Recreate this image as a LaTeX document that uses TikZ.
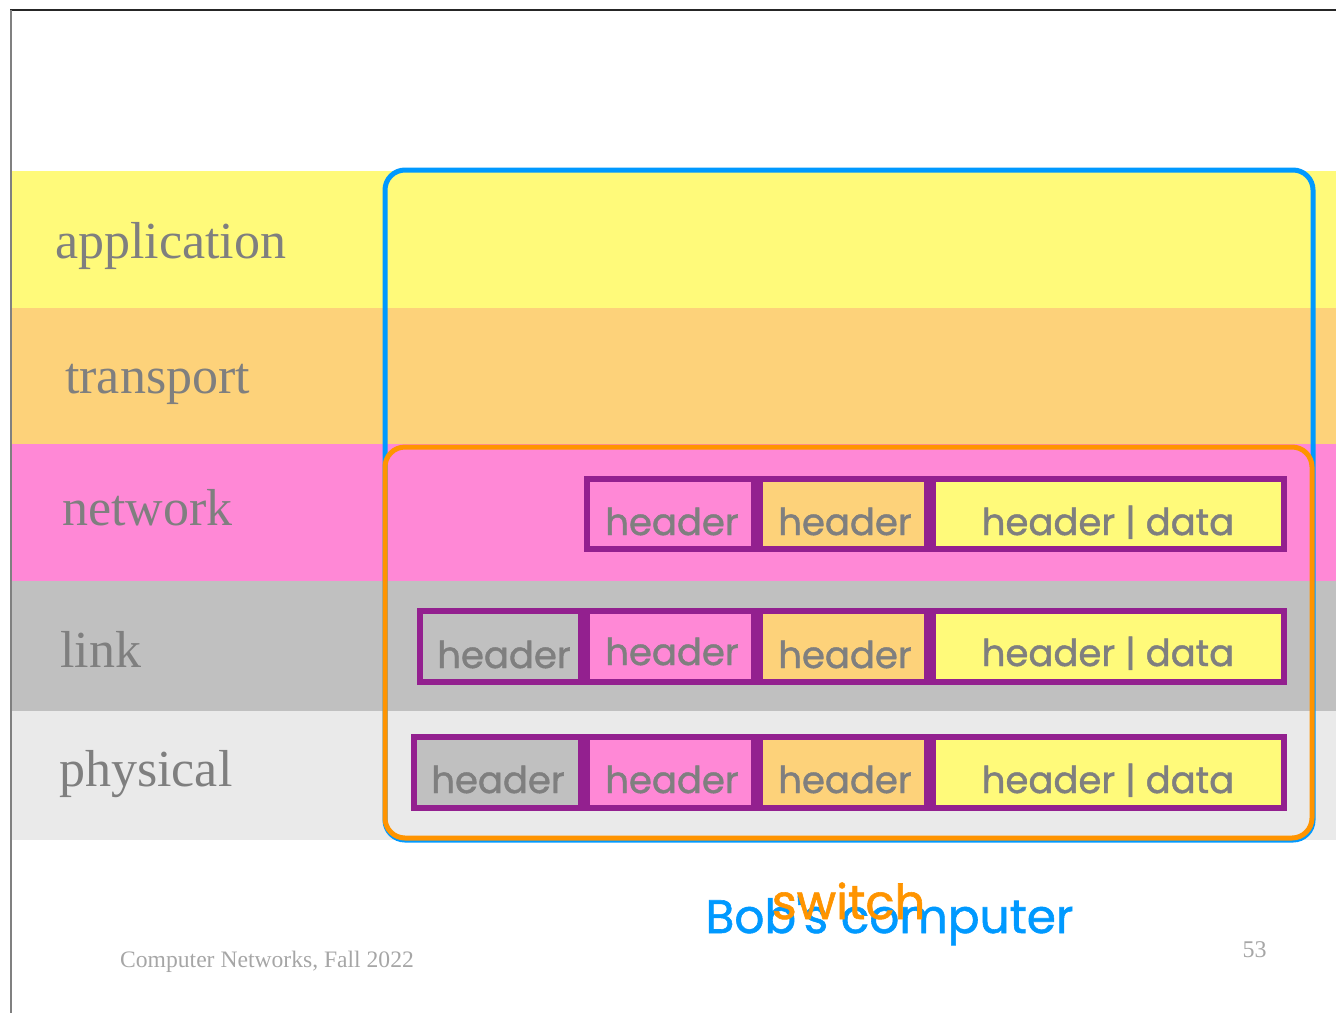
\documentclass[tikz,border=0pt]{standalone}
\usepackage{fontspec}
\setmainfont{Liberation Serif}
\newfontfamily\comic[FakeBold=1.2]{Poppins}
\definecolor{appY}{HTML}{FFFA7A}
\definecolor{trO}{HTML}{FDD27A}
\definecolor{netP}{HTML}{FF88D6}
\definecolor{linkG}{HTML}{C0C0C0}
\definecolor{phyG}{HTML}{EAEAEA}
\definecolor{hdrY}{HTML}{FFFA7A}
\definecolor{blueB}{HTML}{0099FF}
\definecolor{orangeB}{HTML}{FF9400}
\definecolor{purp}{HTML}{93208F}
\definecolor{txtG}{HTML}{7F7F7F}
\definecolor{footG}{HTML}{A6A6A6}
\tikzset{
  band/.style={draw=none},
  lab/.style={anchor=base west, inner sep=0, text=txtG, font=\fontsize{52}{56}\selectfont},
  pbox/.style={draw=purp, line width=6pt, inner sep=0, outer sep=0},
  htxt/.style={anchor=base, inner sep=0, text=txtG, font=\comic\fontsize{37}{40}\selectfont},
  frameline/.style={line width=1.5pt},
}
\begin{document}
\begin{tikzpicture}[x=1pt,y=-1pt]
\useasboundingbox (0,0) rectangle (1336,1013);
% bands
\fill[appY] (12,171) rectangle (1336,308);
\fill[trO] (12,308) rectangle (1336,444);
\fill[netP] (12,444) rectangle (1336,581);
\fill[linkG] (12,581) rectangle (1336,711);
\fill[phyG] (12,711) rectangle (1336,840);
% frame
\draw[frameline, black!85] (10,10) -- (1336,10);
\draw[frameline, gray] (11,10) -- (11,1013);
% layer labels
\node[lab] (lapp) at (55,258) {application};
\node[lab] (ltr) at (65,393) {transport};
\node[lab] (lnet) at (62,525) {network};
\node[lab] (llink) at (60,667) {link};
\node[lab] (lphy) at (59,786) {physical};
% blue and orange frames
\draw[blueB, line width=5pt, rounded corners=20pt] (385,170) rectangle (1313,840);
\draw[orangeB, line width=5pt, rounded corners=20pt] (385,447) rectangle (1312,838);
% network row
\node[pbox, fill=netP, minimum width=167pt, minimum height=70pt] (n1) at (670.5,514) {};
\node[pbox, fill=trO, minimum width=167pt, minimum height=70pt] (n2) at (843.5,514) {};
\node[pbox, fill=hdrY, minimum width=351pt, minimum height=70pt] (n3) at (1108.5,514) {};
\node[htxt] (tn1) at (672,535) {header};
\node[htxt] (tn2) at (845,535) {header};
\node[htxt] (tn3) at (1108,535) {header | data};
% link row
\node[pbox, fill=linkG, minimum width=161pt, minimum height=71pt] (l0) at (500.5,646.5) {};
\node[pbox, fill=netP, minimum width=167pt, minimum height=71pt] (l1) at (670.5,646.5) {};
\node[pbox, fill=trO, minimum width=167pt, minimum height=71pt] (l2) at (843.5,646.5) {};
\node[pbox, fill=hdrY, minimum width=351pt, minimum height=71pt] (l3) at (1108.5,646.5) {};
\node[htxt] (tl0) at (504,668) {header};
\node[htxt] (tl1) at (672,665) {header};
\node[htxt] (tl2) at (845,668) {header};
\node[htxt] (tl3) at (1108,666) {header | data};
% physical row
\node[pbox, fill=linkG, minimum width=167pt, minimum height=71pt] (p0) at (497.5,772.5) {};
\node[pbox, fill=netP, minimum width=167pt, minimum height=71pt] (p1) at (670.5,772.5) {};
\node[pbox, fill=trO, minimum width=167pt, minimum height=71pt] (p2) at (843.5,772.5) {};
\node[pbox, fill=hdrY, minimum width=351pt, minimum height=71pt] (p3) at (1108.5,772.5) {};
\node[htxt] (tp0) at (498,793) {header};
\node[htxt] (tp1) at (672,793) {header};
\node[htxt] (tp2) at (845,793) {header};
\node[htxt] (tp3) at (1108,793) {header | data};
% captions
\node[anchor=base, inner sep=0, text=blueB, font=\comic\fontsize{47}{50}\selectfont] (bob) at (889.5,933) {Bob's computer};
\node[anchor=base, inner sep=0, text=orangeB, font=\comic\fontsize{48}{50}\selectfont] (sw) at (848.5,919) {switch};
\node[anchor=base west, inner sep=0, text=footG, font=\fontsize{23.6}{26}\selectfont] (foot) at (120,967) {Computer Networks, Fall 2022};
\node[anchor=base, inner sep=0, text=footG, font=\fontsize{24}{26}\selectfont] (pg) at (1254.5,957) {53};
\end{tikzpicture}
\end{document}
